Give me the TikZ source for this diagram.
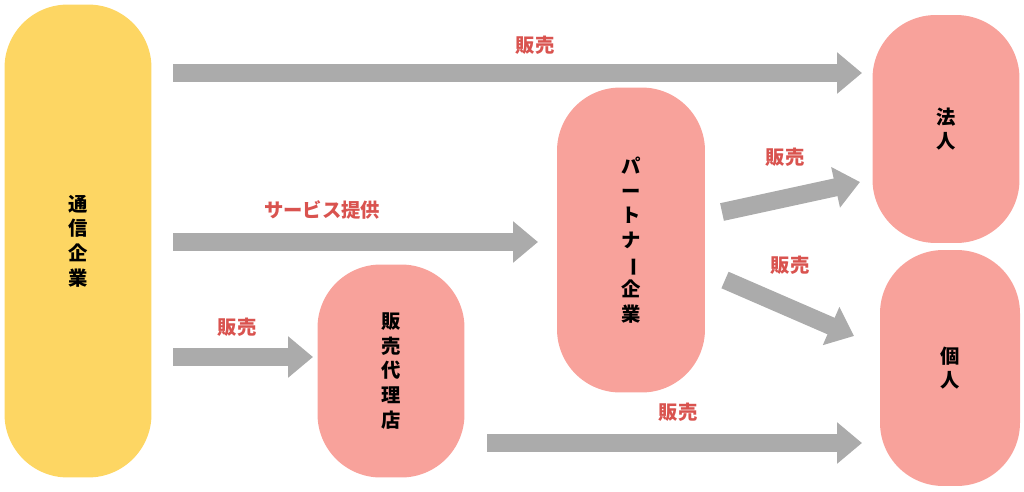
\documentclass[tikz,border=0pt]{standalone}
\usepackage{fontspec}
\newfontfamily\cjk{Noto Sans CJK JP}
\usetikzlibrary{arrows.meta,positioning}
\definecolor{corpyellow}{HTML}{FDD663}
\definecolor{partnerpink}{HTML}{F8A29B}
\definecolor{flowgray}{HTML}{ABABAB}
\definecolor{labelred}{HTML}{D9534F}
\tikzset{
  pill/.style={rounded corners=36pt, inner sep=0pt, font=\cjk\bfseries\fontsize{11}{14}\selectfont, align=center},
  flow/.style={draw=flowgray, line width=0.36cm, -{Triangle[length=0.5cm, width=0.8cm]}},
  flowlabel/.style={text=labelred, font=\cjk\bfseries\fontsize{11}{13}\selectfont}
}
\begin{document}
\begin{tikzpicture}[x=0.02cm, y=-0.02cm]
        \useasboundingbox (0,0) rectangle (1024,491);
        % players
        \node[pill, fill=corpyellow, minimum width=2.94cm, minimum height=9.46cm] (carrier) at (78,241) {通\\信\\企\\業};
        \node[pill, fill=partnerpink, minimum width=2.94cm, minimum height=4.26cm] (agency) at (391,371) {販\\売\\代\\理\\店};
        \node[pill, fill=partnerpink, minimum width=2.96cm, minimum height=6.1cm] (partner) at (631,240) {パ\\ー\\ト\\ナ\\\rotatebox[origin=c]{-90}{ー}\\企\\業};
        \node[pill, fill=partnerpink, minimum width=2.94cm, minimum height=4.56cm] (corp) at (946,129) {法\\人};
        \node[pill, fill=partnerpink, minimum width=2.8cm, minimum height=4.72cm] (person) at (950,368) {個\\人};
        % arrow ends
        \coordinate (a1s) at (173,73);  \coordinate (a1e) at (862,73);
        \coordinate (a2s) at (173,242); \coordinate (a2e) at (538,242);
        \coordinate (a3s) at (173,357); \coordinate (a3e) at (313,357);
        \coordinate (a4s) at (487,443); \coordinate (a4e) at (862,443);
        \coordinate (a5s) at (722,212); \coordinate (a5e) at (860,182);
        \coordinate (a6s) at (725,280); \coordinate (a6e) at (854,336);
        \draw[flow] (a1s) -- (a1e);
        \draw[flow] (a2s) -- (a2e);
        \draw[flow] (a3s) -- (a3e);
        \draw[flow] (a4s) -- (a4e);
        \draw[flow] (a5s) -- (a5e);
        \draw[flow] (a6s) -- (a6e);
        % labels
        \node[flowlabel] (l1) at (535,45) {販売};
        \node[flowlabel] (l2) at (322,210) {サービス提供};
        \node[flowlabel] (l3) at (237,327) {販売};
        \node[flowlabel] (l4) at (678,412) {販売};
        \node[flowlabel] (l5) at (785,157) {販売};
        \node[flowlabel] (l6) at (790,265) {販売};
\end{tikzpicture}
\end{document}
